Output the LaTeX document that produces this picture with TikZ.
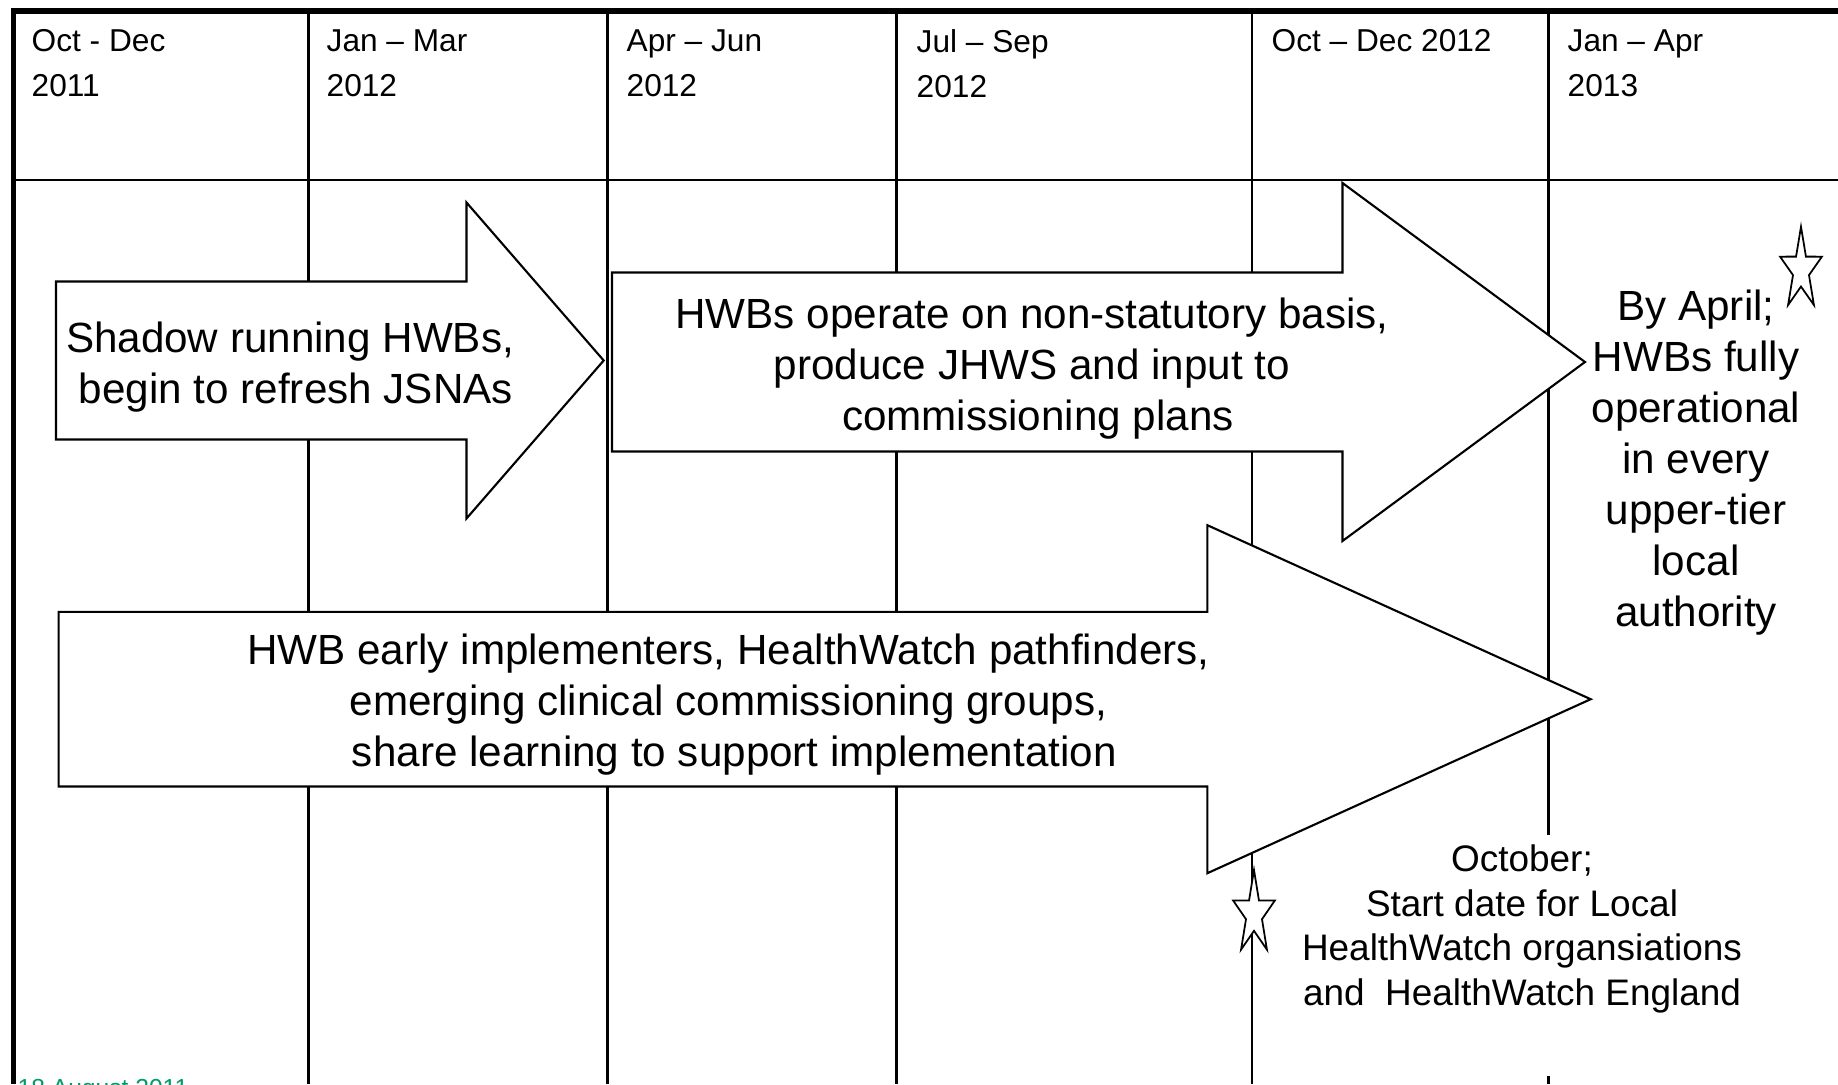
\documentclass[tikz,border=0pt]{standalone}
\usepackage{fontspec}
\setmainfont{Liberation Sans}
\definecolor{dategreen}{RGB}{0,155,105}
\tikzset{frame/.style={line width=1.5pt},
  colline/.style={line width=0.75pt},
  blockarrow/.style={draw,fill=white,line width=0.6pt,line join=miter},
  starline/.style={draw,fill=white,line width=0.5pt},
  quarter/.style={anchor=north west,inner sep=0pt,align=left,font=\fontsize{9pt}{12.8pt}\selectfont},
  bigtext/.style={inner sep=0pt,align=center,font=\fontsize{12pt}{14.5pt}\selectfont},
  hwbstar/.pic={\draw[starline] (90:1) -- (126:.382) -- (162:1) -- (198:.382) -- (234:1) -- (270:.382) -- (306:1) -- (342:.382) -- (18:1) -- (54:.382) -- cycle;}}

\begin{document}
\begin{tikzpicture}[x=0.01cm,y=-0.01cm]
    \useasboundingbox (0,0) rectangle (1838,1084);
    \clip (0,0) rectangle (1838,1084);
    \fill[white] (0,0) rectangle (1838,1084);

    % quarters
    \foreach \x in {308.3,607.2,896.7,1251.9}
        \draw[colline] (\x,11) -- (\x,1084);
    \draw[colline] (1548.5,11) -- (1548.5,834.6);
    \draw[colline] (1548.5,1076) -- (1548.5,1084);
    \draw[colline] (13.5,180) -- (1838,180);
    \draw[frame] (13.5,1084) -- (13.5,11) -- (1838,11);

    \node[quarter] (q1) at (31,29) {Oct - Dec\\2011};
    \node[quarter] (q2) at (326,29) {Jan – Mar\\2012};
    \node[quarter] (q3) at (626,29) {Apr – Jun\\2012};
    \node[quarter] (q4) at (916,29) {Jul – Sep\\2012};
    \node[quarter] (q5) at (1271,29) {Oct – Dec 2012};
    \node[quarter] (q6) at (1567,29) {Jan – Apr\\2013};

    % arrows
    \draw[blockarrow] (56,281.5) -- (466.5,281.5) -- (466.5,202.5) -- (603.7,360.5) -- (466.5,518.5) -- (466.5,439.5) -- (56,439.5) -- cycle;
    \draw[blockarrow] (612,272.5) -- (1342.5,272.5) -- (1342.5,183) -- (1585,362) -- (1342.5,541) -- (1342.5,451.5) -- (612,451.5) -- cycle;
    \draw[blockarrow] (58.6,611.9) -- (1207.4,611.9) -- (1207.4,525.2) -- (1590.7,699.2) -- (1207.4,873.2) -- (1207.4,786.5) -- (58.6,786.5) -- cycle;

    % milestones
    \pic[xscale=22,yscale=-43.3] at (1801,270) {hwbstar};
    \pic[xscale=22,yscale=-44] at (1254,914) {hwbstar};

    \node[bigtext] (shadow) at (290,367) {Shadow running HWBs,\\\ begin to refresh JSNAs};
    \node[bigtext] (operate) at (1032,368.5) {HWBs operate on non-statutory basis,\\produce JHWS and input to\\\ commissioning plans};
    \node[bigtext] (learning) at (728.5,705) {HWB early implementers, HealthWatch pathfinders,\ \\emerging clinical commissioning groups,\\\ share learning to support implementation};
    \node[bigtext] (april) at (1696,463) {By April;\\HWBs fully\\operational\\in every\\upper-tier\\local\\authority};
    \node[bigtext,font=\fontsize{10.5pt}{12.66pt}\selectfont] (october) at (1522,929) {October;\\Start date for Local\\HealthWatch organsiations\\and\ \ HealthWatch England};
    \node[anchor=base west,inner sep=0pt,text=dategreen,font=\fontsize{7pt}{8pt}\selectfont] (date) at (17,1096.6) {18 August 2011};
\end{tikzpicture}
\end{document}
